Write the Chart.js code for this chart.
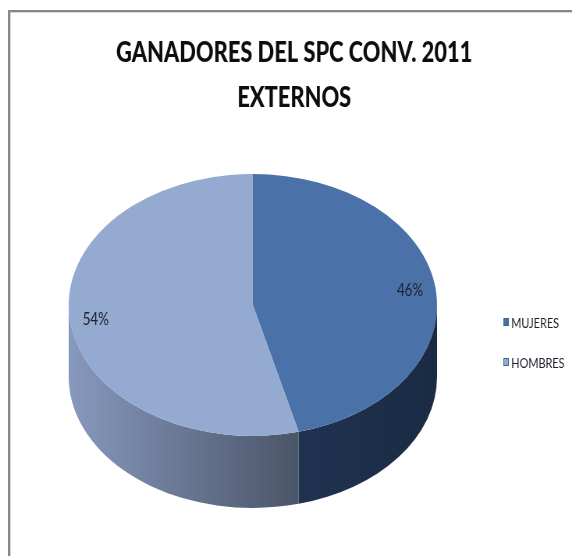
<!DOCTYPE html>
<html>
<head>
<meta charset="utf-8">
<title>Ganadores del SPC 2011 - Externos</title>
<script src="https://cdn.jsdelivr.net/npm/chart.js@4.4.1/dist/chart.umd.min.js"></script>
<style>
  html, body { margin: 0; padding: 0; background: #fff; overflow: hidden; }
  #wrap { position: relative; width: 572px; height: 556px; overflow: hidden; }
  /* chart frame, only its top and left edges fall inside the page */
  #frame {
    position: absolute; left: 8px; top: 10px; width: 700px; height: 700px;
    border-top: 2px solid #878787; border-left: 2px solid #878787;
    box-shadow: inset 1px 1px 0 #d6d6d6;
  }
  /* the chart is drawn wide and squeezed to the narrow Calibri-like look */
  #chart { position: absolute; left: 0; top: 0; transform: scaleX(0.7804); transform-origin: 0 0; }
</style>
</head>
<body>
<div id="wrap">
  <div id="frame"></div>
  <canvas id="chart" width="733" height="556"></canvas>
</div>
<script>
// Data
const categories = ['MUJERES', 'HOMBRES'];
const shares = [46, 54];           // %
const titleLines = ['GANADORES DEL SPC CONV. 2011', 'EXTERNOS'];

// Colours: top face, and side wall (left -> right gradient)
const topColors = ['#4a72a8', '#94aad0'];
const sideColors = [['#1f3250', '#1b2b44'], ['#8799bd', '#4b5569']];

// Tilts the flat pie into an ellipse and draws the side walls under it
const pie3d = {
  id: 'pie3d',
  beforeDatasetsDraw(chart, args, opts) {
    const arcs = chart.getDatasetMeta(0).data;
    if (!arcs.length) return;
    const { x: cx, y: cy, outerRadius: r } = arcs[0];
    const ctx = chart.ctx;
    const k = opts.tilt;
    const d = opts.depth / k;

    ctx.save();
    ctx.translate(0, cy);
    ctx.scale(1, k);
    ctx.translate(0, -cy);

    // only the front half of the rim (0..PI) is visible
    arcs.forEach((arc, i) => {
      for (const off of [-2 * Math.PI, 0, 2 * Math.PI]) {
        const a0 = Math.max(arc.startAngle, off);
        const a1 = Math.min(arc.endAngle, off + Math.PI);
        if (a1 <= a0) continue;
        const left = cx + r * Math.cos(a1);
        const right = cx + r * Math.cos(a0);
        const grad = ctx.createLinearGradient(left, 0, right, 0);
        grad.addColorStop(0, opts.sideColors[i][0]);
        grad.addColorStop(1, opts.sideColors[i][1]);
        ctx.beginPath();
        ctx.arc(cx, cy, r, a0, a1);
        ctx.lineTo(cx + r * Math.cos(a1), cy + d + r * Math.sin(a1));
        ctx.arc(cx, cy + d, r, a1, a0, true);
        ctx.closePath();
        ctx.fillStyle = grad;
        ctx.fill();
      }
    });
  },
  afterDatasetsDraw(chart, args, opts) {
    const ctx = chart.ctx;
    ctx.restore();

    const arcs = chart.getDatasetMeta(0).data;
    if (!arcs.length) return;
    const { x: cx, y: cy, outerRadius: r } = arcs[0];

    // percentage labels on the top face
    ctx.save();
    ctx.font = opts.labelFont;
    ctx.fillStyle = '#1c1f28';
    ctx.textAlign = 'center';
    ctx.textBaseline = 'middle';
    arcs.forEach((arc, i) => {
      const mid = (arc.startAngle + arc.endAngle) / 2;
      const lr = r * opts.labelRadius;
      ctx.fillText(shares[i] + '%', cx + lr * Math.cos(mid), cy + opts.tilt * lr * Math.sin(mid));
    });
    ctx.restore();
  }
};

// Two-line heading and the key on the right
const decorations = {
  id: 'decorations',
  afterDraw(chart, args, opts) {
    const ctx = chart.ctx;
    ctx.save();

    ctx.font = opts.titleFont;
    ctx.fillStyle = '#0d0d0d';
    ctx.textAlign = 'center';
    ctx.textBaseline = 'alphabetic';
    titleLines.forEach((line, i) => ctx.fillText(line, opts.titleX, opts.titleY[i]));

    ctx.font = opts.legendFont;
    ctx.textAlign = 'left';
    ctx.textBaseline = 'middle';
    categories.forEach((name, i) => {
      const y = opts.legendY + i * opts.legendGap;
      ctx.fillStyle = topColors[i];
      ctx.fillRect(opts.legendX, y - 4, 7, 8);
      ctx.strokeStyle = '#3d5f92';
      ctx.lineWidth = 1;
      ctx.strokeRect(opts.legendX + 0.5, y - 3.5, 6, 7);
      ctx.fillStyle = '#1c1f28';
      ctx.fillText(name, opts.legendX + 10, y + 1);
    });

    ctx.restore();
  }
};

new Chart(document.getElementById('chart'), {
  type: 'pie',
  data: {
    labels: categories,
    datasets: [{
      data: shares,
      backgroundColor: topColors,
      borderWidth: 0,
      clip: false
    }]
  },
  options: {
    responsive: false,
    animation: false,
    events: [],
    layout: { padding: { left: 88, right: 173, top: 67, bottom: 13 } },
    plugins: {
      legend: { display: false },
      title: { display: false },
      tooltip: { enabled: false },
      pie3d: {
        tilt: 0.555,
        depth: 72,
        sideColors: sideColors,
        labelRadius: 0.86,
        labelFont: '17px Lato'
      },
      decorations: {
        titleFont: '900 28px Lato',
        titleX: 377,
        titleY: [62, 107],
        legendFont: '14px Lato',
        legendX: 645,
        legendY: 322,
        legendGap: 40
      }
    }
  },
  plugins: [pie3d, decorations]
});
</script>
</body>
</html>
